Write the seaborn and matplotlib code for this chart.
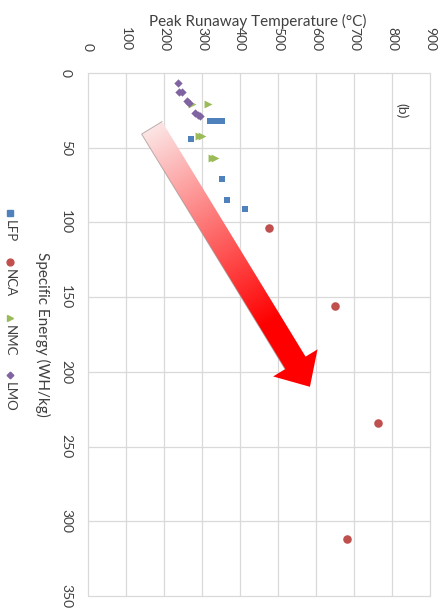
import numpy as np
import pandas as pd
import matplotlib
matplotlib.use("Agg")
import matplotlib.pyplot as plt
import seaborn as sns
from matplotlib.patches import Polygon
from matplotlib.lines import Line2D
from matplotlib.transforms import IdentityTransform

# Peak runaway temperature (°C) vs specific energy (Wh/kg) per cell chemistry
lfp_energy = [32, 32, 32, 32, 44, 71, 85, 91]
lfp_temp = [322, 332, 343, 353, 270, 352, 367, 414]
nca_energy = [104, 156, 234, 312]
nca_temp = [475, 650, 764, 681]
nmc_energy = [21, 21, 42, 42, 57, 57]
nmc_temp = [273, 315, 292, 300, 326, 334]
lmo_energy = [6.5, 12.5, 13, 19, 20, 26.5, 28, 29]
lmo_temp = [238, 239, 247, 260, 266, 282, 290, 296]

chemistries = ["LFP", "NCA", "NMC", "LMO"]
temp_ticks = list(range(0, 901, 100))
energy_ticks = list(range(0, 351, 50))

colors = {"LFP": "#4F81BD", "NCA": "#C0504D", "NMC": "#9BBB59", "LMO": "#8064A2"}
markers = {"LFP": "s", "NCA": "o", "NMC": ">", "LMO": "D"}
msizes = {"LFP": 24, "NCA": 38, "NMC": 32, "LMO": 18}

frames = []
for name, e, t in [("LFP", lfp_energy, lfp_temp), ("NCA", nca_energy, nca_temp),
                   ("NMC", nmc_energy, nmc_temp), ("LMO", lmo_energy, lmo_temp)]:
    frames.append(pd.DataFrame({"chem": name, "energy": e, "temp": t}))
df = pd.concat(frames, ignore_index=True)

sns.set_theme(style="white")
plt.rcParams["font.family"] = ["Lato", "DejaVu Sans"]

W, H = 445, 611
fig = plt.figure(figsize=(W / 100, H / 100), dpi=100)
fig.patch.set_facecolor("white")
ax = fig.add_axes([88 / W, 1 - 596 / H, (430 - 88) / W, (596 - 73) / H])

ax.set_xlim(0, 900)
ax.set_ylim(350, 0)
ax.set_xticks(temp_ticks)
ax.set_yticks(energy_ticks)
ax.xaxis.tick_top()
ax.grid(True, color="#d9d9d9", lw=0.9)
for gl in ax.get_xgridlines() + ax.get_ygridlines():
    gl.set_clip_on(False)
for s in ax.spines.values():
    s.set_visible(False)
ax.tick_params(axis="both", length=0, labelsize=10, labelcolor="#404040")
ax.tick_params(axis="x", pad=15.5)
ax.tick_params(axis="y", pad=11.5)
for lab in ax.get_xticklabels():
    lab.set_rotation(-90)
    lab.set_va("bottom")
for lab in ax.get_yticklabels():
    lab.set_rotation(-90)
    lab.set_va("center")

for name in chemistries:
    sub = df[df.chem == name]
    sns.scatterplot(data=sub, x="temp", y="energy", ax=ax, color=colors[name],
                    marker=markers[name], s=msizes[name], linewidth=0,
                    legend=False, zorder=4)
ax.set_xlabel("")
ax.set_ylabel("")

# Trend arrow with white-to-red gradient
fig.canvas.draw()
tail = np.array(ax.transData.transform((168, 36.7)))
tip = np.array(ax.transData.transform((584, 210)))
vec = tip - tail
L = np.hypot(*vec)
u = vec / L
n = np.array([-u[1], u[0]])
w, hw, hl = 12.0, 26.0, 28.0
neck = tip - u * hl
verts = [tail + n * w, neck + n * w, neck + n * hw, tip,
         neck - n * hw, neck - n * w, tail - n * w]
arrow = Polygon(verts, closed=True, transform=IdentityTransform(),
                facecolor="none", edgecolor="none", zorder=3)
ax.add_patch(arrow)

bb = ax.get_window_extent()
nx, ny = int(round(bb.width)), int(round(bb.height))
xs = bb.x0 + np.arange(nx) + 0.5
ys = bb.y1 - np.arange(ny) - 0.5
X, Y = np.meshgrid(xs, ys)
t = ((X - tail[0]) * u[0] + (Y - tail[1]) * u[1]) / L
s = np.clip(t / 0.75, 0, 1)[..., None]
c0 = np.array([0.99, 0.90, 0.90])
c1 = np.array([1.0, 0.0, 0.0])
rgb = c0 * (1 - s) + c1 * s
img = ax.imshow(rgb, extent=(0, 900, 350, 0), aspect="auto", zorder=3,
                interpolation="bilinear")
img.set_clip_path(arrow)
ax.set_xlim(0, 900)
ax.set_ylim(350, 0)

edge = np.array([tail + n * w, tail - n * w, neck - n * w])
ax.add_line(Line2D(edge[:, 0], edge[:, 1], transform=IdentityTransform(),
                   color="#a09090", lw=0.7, alpha=0.7, zorder=3.5))

ax.text(826, 25, "(b)", rotation=-90, ha="center", va="center",
        fontsize=10, color="#404040")

# Axis titles
fig.text(258 / W, 1 - 21 / H, "Peak Runaway Temperature (°C)", ha="center",
         va="center", fontsize=11, color="#404040")
fig.text(43 / W, 1 - 334 / H, "Specific Energy (WH/kg)", rotation=-90,
         ha="center", va="center", fontsize=11, color="#404040")

# Legend, stacked top to bottom
leg_y = {"LFP": 213, "NCA": 262, "NMC": 318, "LMO": 375}
for name in chemistries:
    y = leg_y[name]
    fig.add_artist(Line2D([10 / W], [1 - y / H], transform=fig.transFigure,
                          marker=markers[name], color=colors[name],
                          markersize=np.sqrt(msizes[name]) * 0.8, lw=0))
    fig.text(10 / W, 1 - (y + 7) / H, name, rotation=-90, ha="center",
             va="top", fontsize=9.5, color="#404040")

fig.savefig("out.png", dpi=100, facecolor="white")
